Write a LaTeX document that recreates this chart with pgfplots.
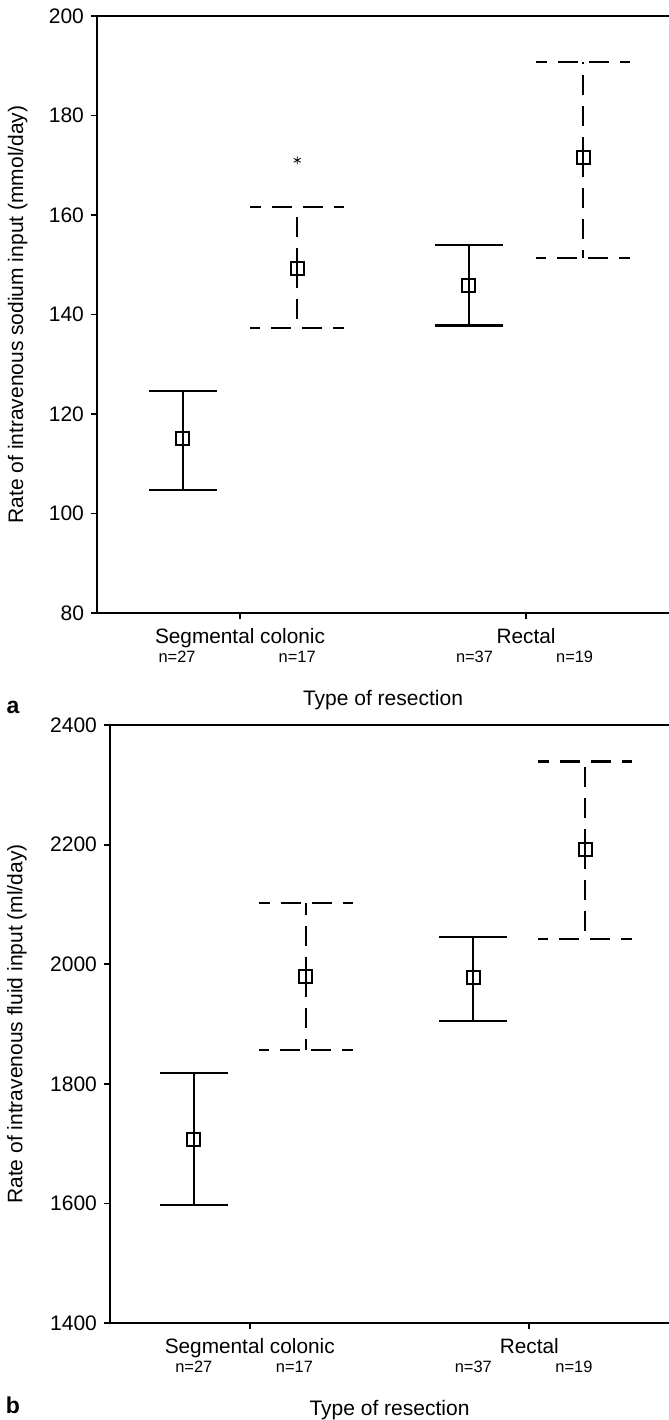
\documentclass[border=0pt]{standalone}
\usepackage{fontspec}
\setmainfont{Liberation Sans}
\usepackage{pgfplots}
\pgfplotsset{compat=1.18}
\usepackage{pgfplotstable}

% panel a: sodium (mmol/day); columns: position, mean, lower, upper
\pgfplotstableread{
x    mean   lo     hi
0.8  115.0  104.8  124.7
1.8  145.8  137.8  154.0
}\naSolid
\pgfplotstableread{
x    mean   lo     hi
1.2  149.3  137.2  161.6
2.2  171.6  151.4  190.8
}\naDashed
% panel b: fluid (ml/day)
\pgfplotstableread{
x    mean   lo     hi
0.8  1707   1597   1818
1.8  1978   1905   2046
}\nbSolid
\pgfplotstableread{
x    mean   lo     hi
1.2  1979   1857   2102
2.2  2192   2042   2339
}\nbDashed

\tikzset{nlab/.style={font=\fontsize{8.2}{9}\selectfont, anchor=base, yshift=-24.6pt}}

\pgfplotsset{
  resect/.style={
    scale only axis,
    xmin=0.5, xmax=2.5,
    axis x line*=box, axis y line*=left,
    axis line style={-, line width=1pt},
    xtick pos=bottom, ytick pos=left,
    tick align=outside, major tick length=3pt,
    tick style={black, line width=0.9pt},
    xtick={1,2}, xticklabels={Segmental colonic,Rectal},
    xticklabel style={font=\fontsize{10.4}{12}\selectfont, yshift=-1pt},
    yticklabel style={font=\fontsize{10.5}{12}\selectfont},
    /pgf/number format/assume math mode=true,
    /pgf/number format/1000 sep={},
    xlabel={Type of resection},
    xlabel style={at={(axis description cs:0.5,0)}, anchor=base, yshift=-46pt,
      font=\fontsize{10.5}{12}\selectfont},
    ylabel style={at={(axis description cs:0,0.5)}, anchor=center,
      font=\fontsize{10.5}{12}\selectfont},
    clip=false,
  },
  solidbar/.style={only marks, black, mark=square, mark size=3.2pt,
    mark options={solid, line width=1pt},
    error bars/.cd, y dir=both, y explicit,
    error bar style={line width=1.05pt, solid},
    error mark options={rotate=90, mark size=17pt, line width=1.05pt, solid}},
  dashbar/.style={only marks, black, mark=square, mark size=3.2pt,
    mark options={solid, line width=1pt},
    error bars/.cd, y dir=both, y explicit,
    error bar style={line width=1.05pt, dash pattern=on 10pt off 5.5pt},
    error mark options={rotate=90, mark size=23.5pt, line width=1.05pt,
      dash pattern=on 10pt off 5.5pt, dash phase=4.5pt}},
}

\begin{document}
\begin{tikzpicture}[x=1pt,y=1pt]
\useasboundingbox (0,0) rectangle (334.5,-710);

\begin{axis}[resect,
  at={(48.5pt,-306.5pt)}, anchor=south west,
  width=286pt, height=298.5pt,
  ymin=80, ymax=200, ytick={80,100,...,200},
  ylabel={Rate of intravenous sodium input (mmol/day)},
  ylabel style={yshift=39.7pt}]
\addplot[solidbar] table[x=x, y=mean,
  y error plus expr=\thisrow{hi}-\thisrow{mean},
  y error minus expr=\thisrow{mean}-\thisrow{lo}] {\naSolid};
\addplot[dashbar] table[x=x, y=mean,
  y error plus expr=\thisrow{hi}-\thisrow{mean},
  y error minus expr=\thisrow{mean}-\thisrow{lo}] {\naDashed};
\addplot[only marks, black, mark=asterisk, mark size=2pt] coordinates {(1.2,171)};
\node[nlab] at (axis cs:0.78,80) {n=27};
\node[nlab] at (axis cs:1.20,80) {n=17};
\node[nlab] at (axis cs:1.82,80) {n=37};
\node[nlab] at (axis cs:2.17,80) {n=19};
\end{axis}

\begin{axis}[resect,
  at={(55pt,-661.5pt)}, anchor=south west,
  width=279.5pt, height=299pt,
  ymin=1400, ymax=2400, ytick={1400,1600,...,2400},
  ylabel={Rate of intravenous fluid input (ml/day)},
  ylabel style={yshift=46.5pt}]
\addplot[solidbar] table[x=x, y=mean,
  y error plus expr=\thisrow{hi}-\thisrow{mean},
  y error minus expr=\thisrow{mean}-\thisrow{lo}] {\nbSolid};
\addplot[dashbar] table[x=x, y=mean,
  y error plus expr=\thisrow{hi}-\thisrow{mean},
  y error minus expr=\thisrow{mean}-\thisrow{lo}] {\nbDashed};
\node[nlab] at (axis cs:0.80,1400) {n=27};
\node[nlab] at (axis cs:1.16,1400) {n=17};
\node[nlab] at (axis cs:1.80,1400) {n=37};
\node[nlab] at (axis cs:2.16,1400) {n=19};
\end{axis}

\node[font=\bfseries\fontsize{11.5}{13}\selectfont, anchor=base] at (6.5,-356.5) {a};
\node[font=\bfseries\fontsize{11.5}{13}\selectfont, anchor=base] at (6.5,-706.5) {b};
\end{tikzpicture}
\end{document}
